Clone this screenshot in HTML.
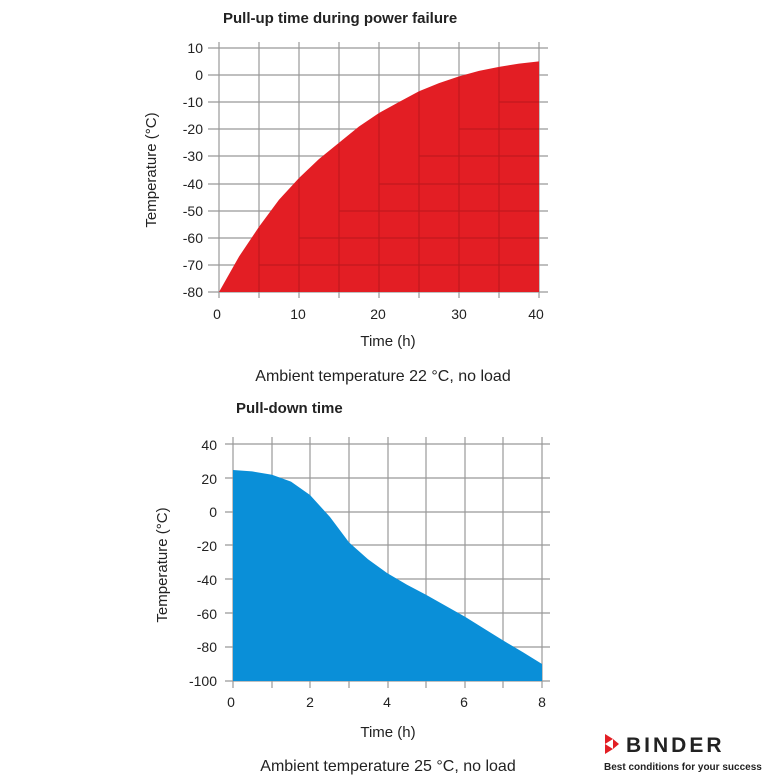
<!DOCTYPE html>
<html><head><style>
body{margin:0;background:#fff;width:775px;height:775px;overflow:hidden}
text{font-family:"Liberation Sans",sans-serif;fill:#222}
</style></head><body>
<svg width="775" height="775" viewBox="0 0 775 775">
<!-- TOP CHART -->
<text x="223" y="23" font-size="15" font-weight="bold">Pull-up time during power failure</text>
<g stroke="#999" stroke-width="1.2">
<line x1="219" y1="42" x2="219" y2="298"/><line x1="259" y1="42" x2="259" y2="298"/><line x1="299" y1="42" x2="299" y2="298"/><line x1="339" y1="42" x2="339" y2="298"/><line x1="379" y1="42" x2="379" y2="298"/><line x1="419" y1="42" x2="419" y2="298"/><line x1="459" y1="42" x2="459" y2="298"/><line x1="499" y1="42" x2="499" y2="298"/><line x1="539" y1="42" x2="539" y2="298"/>
<line x1="208" y1="48" x2="548" y2="48"/><line x1="208" y1="75" x2="548" y2="75"/><line x1="208" y1="102" x2="548" y2="102"/><line x1="208" y1="129" x2="548" y2="129"/><line x1="208" y1="156" x2="548" y2="156"/><line x1="208" y1="184" x2="548" y2="184"/><line x1="208" y1="211" x2="548" y2="211"/><line x1="208" y1="238" x2="548" y2="238"/><line x1="208" y1="265" x2="548" y2="265"/><line x1="208" y1="292" x2="548" y2="292"/>
</g>
<polygon points="219,292 239,256.6 259,226.8 279,199.7 299,178 319,159 339,142.8 359,126.5 379,113 399,102 419,91.3 439,83.1 459,76.4 479,70.9 499,66.9 519,63.6 539,61.4 539,292" fill="#e31e24"/>
<g stroke="#8a1014" stroke-width="1" opacity="0.45">
<line x1="259" y1="265" x2="539" y2="265"/><line x1="299" y1="238" x2="539" y2="238"/><line x1="339" y1="211" x2="539" y2="211"/><line x1="379" y1="184" x2="539" y2="184"/><line x1="419" y1="156" x2="539" y2="156"/><line x1="459" y1="129" x2="539" y2="129"/><line x1="499" y1="102" x2="539" y2="102"/>
<line x1="259" y1="228" x2="259" y2="292"/><line x1="299" y1="179" x2="299" y2="292"/><line x1="339" y1="144" x2="339" y2="292"/><line x1="379" y1="114" x2="379" y2="292"/><line x1="419" y1="92" x2="419" y2="292"/><line x1="459" y1="77" x2="459" y2="292"/><line x1="499" y1="68" x2="499" y2="292"/>
</g>
<g font-size="14" text-anchor="end">
<text x="203" y="53">10</text><text x="203" y="80">0</text><text x="203" y="107">-10</text><text x="203" y="134">-20</text><text x="203" y="161">-30</text><text x="203" y="189">-40</text><text x="203" y="216">-50</text><text x="203" y="243">-60</text><text x="203" y="270">-70</text><text x="203" y="297">-80</text>
</g>
<g font-size="14" text-anchor="middle">
<text x="217" y="319">0</text><text x="298" y="319">10</text><text x="378" y="319">20</text><text x="459" y="319">30</text><text x="536" y="319">40</text>
<text x="388" y="346" font-size="15">Time (h)</text>
</g>
<text transform="translate(156,170) rotate(-90)" font-size="15" text-anchor="middle">Temperature (°C)</text>
<text x="383" y="381" font-size="16" text-anchor="middle" fill="#333">Ambient temperature 22 °C, no load</text>

<!-- BOTTOM CHART -->
<text x="236" y="413" font-size="15" font-weight="bold">Pull-down time</text>
<g stroke="#999" stroke-width="1.2">
<line x1="233" y1="437" x2="233" y2="688"/><line x1="272" y1="437" x2="272" y2="688"/><line x1="310" y1="437" x2="310" y2="688"/><line x1="349" y1="437" x2="349" y2="688"/><line x1="388" y1="437" x2="388" y2="688"/><line x1="426" y1="437" x2="426" y2="688"/><line x1="465" y1="437" x2="465" y2="688"/><line x1="503" y1="437" x2="503" y2="688"/><line x1="542" y1="437" x2="542" y2="688"/>
<line x1="225" y1="444" x2="550" y2="444"/><line x1="225" y1="478" x2="550" y2="478"/><line x1="225" y1="512" x2="550" y2="512"/><line x1="225" y1="545" x2="550" y2="545"/><line x1="225" y1="579" x2="550" y2="579"/><line x1="225" y1="613" x2="550" y2="613"/><line x1="225" y1="647" x2="550" y2="647"/><line x1="225" y1="681" x2="550" y2="681"/>
</g>
<polygon points="233,470 252,471.4 272,474.8 291,481.6 310,495 330,517 349,542.4 368,559.3 387,573 407,584.7 426,594.8 465,616.8 503,640.4 523,652.3 542,664 542,681 233,681" fill="#0a8fd8"/>
<g font-size="14" text-anchor="end">
<text x="217" y="450">40</text><text x="217" y="484">20</text><text x="217" y="517">0</text><text x="217" y="551">-20</text><text x="217" y="585">-40</text><text x="217" y="619">-60</text><text x="217" y="652">-80</text><text x="217" y="686">-100</text>
</g>
<g font-size="14" text-anchor="middle">
<text x="231" y="707">0</text><text x="310" y="707">2</text><text x="387" y="707">4</text><text x="464" y="707">6</text><text x="542" y="707">8</text>
<text x="388" y="737" font-size="15">Time (h)</text>
</g>
<text transform="translate(167,565) rotate(-90)" font-size="15" text-anchor="middle">Temperature (°C)</text>
<text x="388" y="771" font-size="16" text-anchor="middle" fill="#444">Ambient temperature 25 °C, no load</text>

<!-- LOGO -->
<polygon points="605,734 613,739 605,744" fill="#e31e24"/>
<polygon points="605,744 613,749 605,754" fill="#e31e24"/>
<polygon points="613,739 619,744 613,749" fill="#e31e24"/>
<text x="626" y="752" font-size="21" font-weight="bold" letter-spacing="3" fill="#111">BINDER</text>
<text x="604" y="770" font-size="10" font-weight="bold" fill="#111">Best conditions for your success</text>
</svg>
</body></html>
